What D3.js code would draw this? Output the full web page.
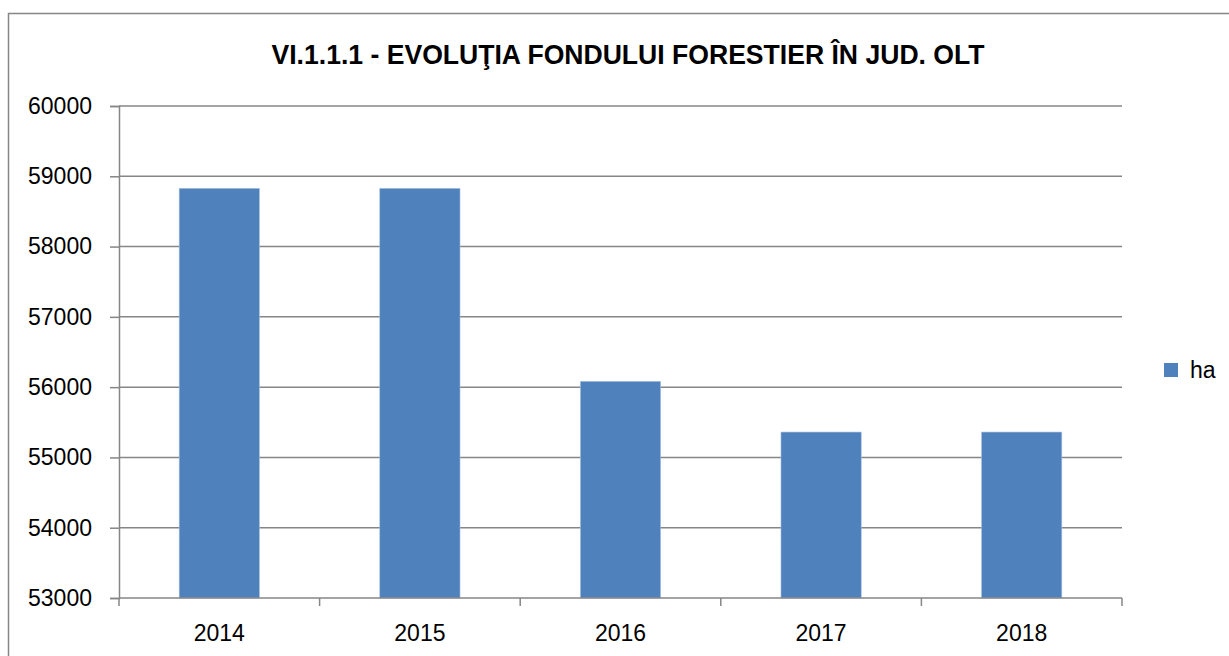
<!DOCTYPE html>
<html>
<head>
<meta charset="utf-8">
<script src="https://cdn.jsdelivr.net/npm/d3@7"></script>
<style>
  body { margin: 0; background: #fff; }
  svg { display: block; font-family: "Liberation Sans", Arial, sans-serif; }
</style>
</head>
<body>
<svg id="chart" width="1229" height="656"></svg>
<script>
// data
const years = ["2014", "2015", "2016", "2017", "2018"];
const hectares = [58828, 58828, 56082, 55361, 55361];
const yTicks = [53000, 54000, 55000, 56000, 57000, 58000, 59000, 60000];
const seriesName = "ha";
const titleText = "VI.1.1.1 - EVOLUŢIA FONDULUI FORESTIER ÎN JUD. OLT";

const svg = d3.select("#chart");
const barColor = "#4f81bd";
const gridColor = "#868686";

// plot box
const plotL = 119, plotR = 1122, plotT = 106, plotB = 598;

// outer frame
svg.append("rect")
  .attr("x", 8.5).attr("y", 13.5)
  .attr("width", 1240).attr("height", 660)
  .attr("fill", "none")
  .attr("stroke", gridColor)
  .attr("stroke-width", 1.5);

// title
svg.append("text")
  .attr("x", 628).attr("y", 64)
  .attr("text-anchor", "middle")
  .attr("font-weight", "bold")
  .attr("font-size", 27)
  .attr("textLength", 713)
  .attr("lengthAdjust", "spacingAndGlyphs")
  .attr("fill", "#000")
  .text(titleText);

const x = d3.scaleBand().domain(years).range([plotL, plotR]).paddingInner(0.6).paddingOuter(0.3);
const y = d3.scaleLinear().domain([53000, 60000]).range([plotB, plotT]);

// gridlines
svg.append("g")
  .selectAll("line")
  .data(yTicks.filter(d => d > 53000))
  .join("line")
  .attr("x1", plotL).attr("x2", plotR)
  .attr("y1", d => y(d)).attr("y2", d => y(d))
  .attr("stroke", gridColor)
  .attr("stroke-width", 1.5);

// bars
svg.append("g")
  .selectAll("rect")
  .data(years)
  .join("rect")
  .attr("x", d => x(d))
  .attr("width", x.bandwidth())
  .attr("y", (d, i) => y(hectares[i]))
  .attr("height", (d, i) => y(53000) - y(hectares[i]))
  .attr("fill", barColor)
  .attr("stroke", "#a7bfde")
  .attr("stroke-width", 0.6);

// y axis
const yAxis = svg.append("g")
  .attr("transform", `translate(${plotL},0)`)
  .call(d3.axisLeft(y).tickValues(yTicks).tickSize(9).tickPadding(18).tickFormat(d3.format("d")));
yAxis.select(".domain").attr("stroke", gridColor).attr("stroke-width", 1.5);
yAxis.selectAll(".tick line").attr("stroke", gridColor).attr("stroke-width", 1.5);
yAxis.selectAll("text")
  .attr("font-size", 23)
  .attr("font-family", "Liberation Sans, Arial, sans-serif")
  .attr("fill", "#000");

// x axis (ticks between categories)
const step = (plotR - plotL) / years.length;
const xa = svg.append("g");
xa.append("line")
  .attr("x1", plotL).attr("x2", plotR)
  .attr("y1", plotB).attr("y2", plotB)
  .attr("stroke", gridColor).attr("stroke-width", 1.5);
xa.selectAll("line.tk")
  .data(d3.range(years.length + 1))
  .join("line")
  .attr("class", "tk")
  .attr("x1", i => plotL + i * step).attr("x2", i => plotL + i * step)
  .attr("y1", plotB).attr("y2", plotB + 8)
  .attr("stroke", gridColor).attr("stroke-width", 1.5);
xa.selectAll("text")
  .data(years)
  .join("text")
  .attr("x", d => x(d) + x.bandwidth() / 2)
  .attr("y", 641)
  .attr("text-anchor", "middle")
  .attr("font-size", 23)
  .attr("fill", "#000")
  .text(d => d);

// legend
const lg = svg.append("g").attr("transform", "translate(1164,363)");
lg.append("rect").attr("width", 14).attr("height", 14).attr("fill", barColor);
lg.append("text")
  .attr("x", 26).attr("y", 15)
  .attr("font-size", 23)
  .attr("fill", "#000")
  .text(seriesName);
</script>
</body>
</html>
